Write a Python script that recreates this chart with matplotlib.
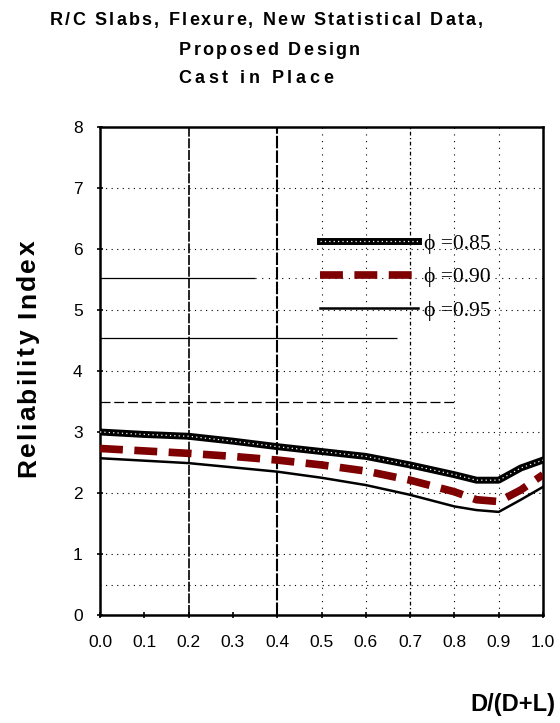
import matplotlib
matplotlib.use("Agg")
import matplotlib.pyplot as plt
from matplotlib.legend_handler import HandlerTuple
from matplotlib.font_manager import FontProperties, findfont, get_font

# ---- data ----
x = [0.0, 0.1, 0.2, 0.3, 0.4, 0.5, 0.6, 0.7, 0.8, 0.85, 0.9, 0.95, 1.0]
phi085 = [3.00, 2.96, 2.93, 2.85, 2.76, 2.68, 2.60, 2.46, 2.30, 2.21, 2.21, 2.41, 2.54]
phi090 = [2.73, 2.69, 2.65, 2.60, 2.54, 2.46, 2.36, 2.21, 2.02, 1.89, 1.86, 2.05, 2.30]
phi095 = [2.57, 2.53, 2.49, 2.42, 2.35, 2.25, 2.13, 1.97, 1.78, 1.72, 1.69, 1.89, 2.10]
labels = ["\u03d5 =0.85", "\u03d5 =0.90", "\u03d5 =0.95"]
xticks = [0.0, 0.1, 0.2, 0.3, 0.4, 0.5, 0.6, 0.7, 0.8, 0.9, 1.0]
yticks = [0, 1, 2, 3, 4, 5, 6, 7, 8]
title_lines = ["R/C Slabs, Flexure, New Statistical Data,", "Proposed Design", "Cast in Place"]
ylabel = "Reliability Index"
xlabel = "D/(D+L)"

plt.rcParams['font.family'] = ['Liberation Sans', 'DejaVu Sans']
W, H, DPI = 560, 723, 100

fig = plt.figure(figsize=(W / DPI, H / DPI), dpi=DPI)
ax = fig.add_axes([100 / W, 1 - 615 / H, 443 / W, 488 / H])
ax.set_xlim(0, 1.0)
ax.set_ylim(0, 8)

_bold = FontProperties(family='Liberation Sans', weight='bold')
_font = get_font(findfont(_bold))


def advances(s, fs):
    _font.set_size(fs, DPI)
    return [_font.load_char(ord(c)).linearHoriAdvance / 65536.0 for c in s]


def spaced_text(s, fs, start_px, base_px, target_w, vertical=False):
    adv = advances(s, fs)
    nat = sum(adv)
    sp = (target_w - nat) / max(len(s) - 1, 1)
    pos = 0.0
    for c, a in zip(s, adv):
        if vertical:
            fig.text(base_px / W, 1 - (start_px - pos) / H, c, rotation=90,
                     rotation_mode='anchor', ha='left', va='baseline',
                     fontsize=fs, fontweight='bold', family='Liberation Sans')
        else:
            fig.text((start_px + pos) / W, 1 - base_px / H, c, ha='left', va='baseline',
                     fontsize=fs, fontweight='bold', family='Liberation Sans')
        pos += a + sp


# scanned-style gridlines
gk = dict(color='black', lw=0.8, zorder=1)
for yv in [7, 6, 5, 4, 2, 1, 0.5]:
    ax.axhline(yv, ls=(0, (1, 4)), **gk)
ax.hlines(3, 0.7, 1.0, ls=(0, (1, 4)), **gk)
ax.hlines(5.52, 0, 0.35, ls='-', color='black', lw=0.9, zorder=1)
ax.hlines(5.52, 0.35, 1.0, ls=(0, (1, 5)), color='black', lw=0.8, zorder=1)
ax.hlines(4.54, 0, 0.67, ls='-', color='black', lw=0.9, zorder=1)
ax.hlines(3.5, 0, 0.8, ls=(0, (8, 3)), color='black', lw=0.9, zorder=1)
ax.axvline(0.2, ls=(0, (6, 1)), color='black', lw=1.2, zorder=1)
ax.axvline(0.4, ls=(0, (6, 1)), color='black', lw=1.5, zorder=1)
for xv in [0.5, 0.6, 0.8, 0.9]:
    ax.axvline(xv, ls=(0, (1, 5)), **gk)
ax.axvline(0.7, ls=(0, (3, 2, 1, 2)), color='black', lw=0.9, zorder=1)

# curves
l1a, = ax.plot(x, phi085, color='black', lw=5.0, zorder=4)
l1b, = ax.plot(x, phi085, color='white', lw=0.9, ls=(0, (1, 2.5)), zorder=5)
l2, = ax.plot(x, phi090, color='#7f0000', lw=5.5, ls=(0, (3.0, 1.5)), zorder=3)
l3, = ax.plot(x, phi095, color='black', lw=1.8, zorder=3)

ax.legend([(l1a, l1b), l2, l3], labels, loc='upper left', bbox_to_anchor=(0.497, 0.781),
          frameon=False, borderpad=0, borderaxespad=0, handlelength=4.55,
          handletextpad=0.25, labelspacing=0.62,
          handler_map={tuple: HandlerTuple(ndivide=1, pad=0)},
          prop={'family': 'Liberation Serif', 'size': 15.5})

ax.set_xticks(xticks)
ax.set_xticklabels([f"{v:.1f}" for v in xticks])
ax.set_yticks(yticks)
ax.tick_params(axis='both', direction='inout', length=5, width=1.2, labelsize=12.5)
ax.tick_params(axis='x', pad=12)
ax.tick_params(axis='y', pad=10)
for s in ax.spines.values():
    s.set_linewidth(1.8)

# title (letter-spaced bold, three lines)
spaced_text(title_lines[0], 13, 50, 25, 433)
spaced_text(title_lines[1], 13, 179, 55, 181)
spaced_text(title_lines[2], 13, 178, 83, 155)
# y label (vertical, letter-spaced)
spaced_text(ylabel, 19, 477, 35, 237, vertical=True)
# x label
fig.text(470 / W, 1 - 711 / H, xlabel, ha='left', va='baseline', fontsize=17, fontweight='bold')

fig.savefig("out.png", dpi=DPI)
